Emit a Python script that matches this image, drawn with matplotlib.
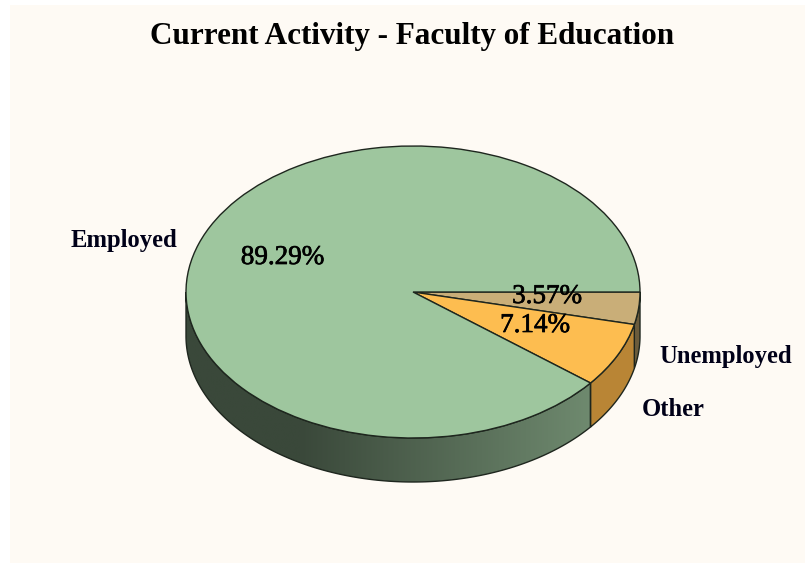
import numpy as np
import matplotlib
matplotlib.use('Agg')
import matplotlib.pyplot as plt
import matplotlib.patheffects as pe
from matplotlib.colors import LinearSegmentedColormap
from matplotlib.patches import Polygon, Rectangle

title = 'Current Activity - Faculty of Education'
labels = ['Unemployed', 'Other', 'Employed']
values = [3.57, 7.14, 89.29]
top_colors = ['#c9ae78', '#fdbd50', '#9ec69e']
side_colors = ['#6b5c3c', '#b98535', '#6f8a6f']

W, H = 805, 563
CX, CY, RX, RY = 413, 292, 227, 146
DEPTH = 44 / RY
BG = '#fefaf4'
EDGE = '#1e261e'

fig = plt.figure(figsize=(W / 100, H / 100), dpi=100, facecolor='white')
ax = fig.add_axes([0, 0, 1, 1])

# pie in a unit circle, the squash comes from the axis limits
wedges, _ = ax.pie(values, colors=top_colors, startangle=0, counterclock=False, radius=1,
                   wedgeprops={'edgecolor': EDGE, 'linewidth': 1.0, 'zorder': 5})
ax.set_aspect('auto')
ax.axis('off')


def px(x, y):
    return (x - CX) / RX, (CY - y) / RY


ax.add_patch(Rectangle(px(10, H), (W - 10) / RX, (H - 5) / RY, facecolor=BG, edgecolor='none', zorder=0))

# side walls of the slices, only the part facing the viewer
total = sum(values)
start = 0.0
for val, col in zip(values, side_colors):
    end = start + val / total * 360
    t = np.radians(np.linspace(start, min(end, 180), 200))
    start = end
    xs, ys = np.cos(t), -np.sin(t)
    pts = np.vstack([np.column_stack([xs, ys]), np.column_stack([xs[::-1], ys[::-1] - DEPTH])])
    if col == side_colors[2]:
        poly = Polygon(pts, closed=True, facecolor='none', edgecolor=EDGE, linewidth=1.0, zorder=3)
        ax.add_patch(poly)
        cmap = LinearSegmentedColormap.from_list('side', [(0, '#3a483a'), (0.28, '#3a483a'), (1, '#6f8a6f')])
        x0, x1 = px(186, 0)[0], px(592, 0)[0]
        im = ax.imshow(np.linspace(0, 1, 256).reshape(1, -1), cmap=cmap, aspect='auto',
                       extent=(x0, x1, -1 - DEPTH, 0.1), zorder=2)
        im.set_clip_path(poly)
    else:
        ax.add_patch(Polygon(pts, closed=True, facecolor=col, edgecolor=EDGE, linewidth=1.0, zorder=3))
ax.set_xlim(-CX / RX, (W - CX) / RX)
ax.set_ylim((CY - H) / RY, CY / RY)

serif = 'Liberation Serif'
ax.text(*px(412.5, 33), title, family=serif, weight='bold', fontsize=22.4, ha='center', va='center_baseline', color='black', zorder=9)

label_pos = [(726, 353.5), (673, 406.5), (123.5, 238.5)]
for lab, (x, y) in zip(labels, label_pos):
    ax.text(*px(x, y), lab, family=serif, weight='bold', fontsize=17.7, ha='center', va='center_baseline', color='#000018', zorder=9)

pct_pos = [(547, 293.5), (535, 322.5), (282.5, 254.5)]
for val, (x, y) in zip(values, pct_pos):
    ax.text(*px(x, y), f'{val:.2f}%', family=serif, fontsize=19.5, ha='center', va='center_baseline', color='black', zorder=9,
            path_effects=[pe.withStroke(linewidth=0.5, foreground='black')])

fig.savefig('out.png', dpi=100)
